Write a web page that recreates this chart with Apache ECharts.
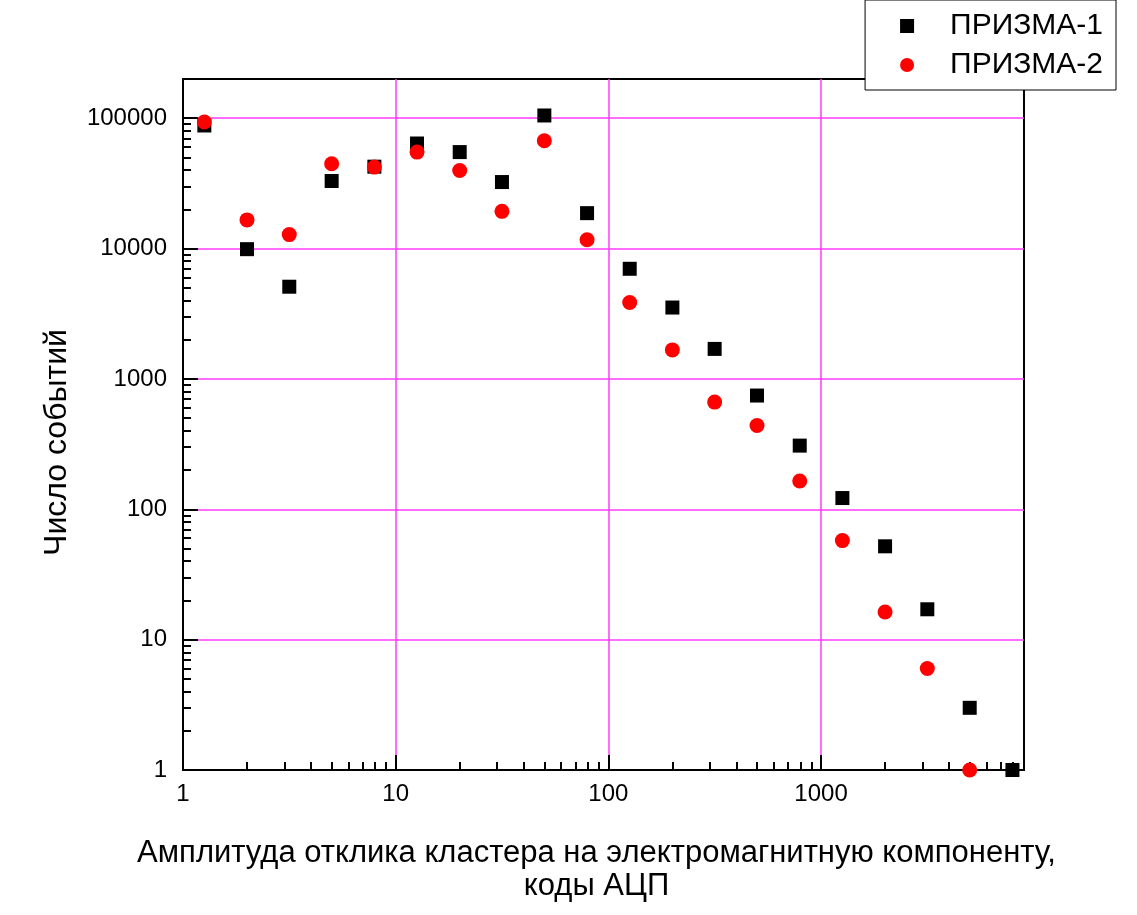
<!DOCTYPE html>
<html>
<head>
<meta charset="utf-8">
<script src="https://cdn.jsdelivr.net/npm/echarts@6/dist/echarts.min.js"></script>
<style>
  html, body { margin: 0; padding: 0; background: #fff; }
  #chart { width: 1137px; height: 915px; }
</style>
</head>
<body>
<div id="chart"></div>
<script>
// amplitude bins, ADC codes
const amplitudes = [1.26, 2, 3.16, 5, 7.94, 12.6, 20, 31.6, 50, 79.4, 126, 200, 316, 500, 794, 1260, 2000, 3160, 5000, 7940];
const prisma1 = [88000, 9900, 5100, 33000, 42500, 64000, 55000, 32400, 105000, 18700, 7000, 3530, 1700, 746, 308, 122, 52, 17.1, 3, 1];
const prisma2 = [93500, 16600, 12800, 44800, 42200, 55000, 39700, 19300, 67200, 11700, 3860, 1670, 664, 439, 165, 57.5, 16.3, 6, 1];

const seriesNames = ['ПРИЗМА-1', 'ПРИЗМА-2'];
const xName = 'Амплитуда отклика кластера на электромагнитную компоненту,\nкоды АЦП';
const yName = 'Число событий';

const font = "'Liberation Sans', Arial, sans-serif";
const grid = '#ff3cff';

const chart = echarts.init(document.getElementById('chart'));

const pairs = (xs, ys) => ys.map((y, i) => [xs[i], y]);
const plain = v => String(Math.round(v));

const option = {
  animation: false,
  backgroundColor: '#fff',
  grid: {
    left: 183, top: 79, right: 113, bottom: 145,
    show: true, borderColor: '#000', borderWidth: 2
  },
  legend: {
    orient: 'vertical',
    right: 21, top: 0,
    padding: [11, 13, 10, 35],
    itemGap: 9,
    itemWidth: 14, itemHeight: 14,
    borderColor: '#000', borderWidth: 1,
    backgroundColor: '#fff',
    textStyle: { fontFamily: font, fontSize: 30, color: '#000', padding: [0, 0, 0, 31] },
    data: seriesNames
  },
  xAxis: {
    type: 'log', logBase: 10, min: 1, max: 9000,
    name: xName, nameLocation: 'middle', nameGap: 67,
    nameTextStyle: { fontFamily: font, fontSize: 31, color: '#000', lineHeight: 33, padding: [0, 14, 0, 0] },
    axisLine: { lineStyle: { color: '#000', width: 2 } },
    axisTick: { inside: true, length: 15, lineStyle: { color: '#000', width: 2 } },
    minorTick: { show: true, splitNumber: 9, length: 8, lineStyle: { color: '#000', width: 2 } },
    axisLabel: { fontFamily: font, fontSize: 24, color: '#000', margin: 12, showMaxLabel: false, formatter: plain },
    splitLine: { show: true, showMinLine: false, showMaxLine: false, lineStyle: { color: grid, width: 1.5 } }
  },
  yAxis: {
    type: 'log', logBase: 10, min: 1, max: 200000,
    name: yName, nameLocation: 'middle', nameGap: 110, nameRotate: 90,
    nameTextStyle: { fontFamily: font, fontSize: 32, color: '#000', padding: [0, 36, 0, 0] },
    axisLine: { lineStyle: { color: '#000', width: 2 } },
    axisTick: { inside: true, length: 15, lineStyle: { color: '#000', width: 2 } },
    minorTick: { show: true, splitNumber: 9, length: 8, lineStyle: { color: '#000', width: 2 } },
    axisLabel: { fontFamily: font, fontSize: 24, color: '#000', margin: 16, showMaxLabel: false, formatter: plain },
    splitLine: { show: true, showMinLine: false, showMaxLine: false, lineStyle: { color: grid, width: 1.5 } }
  },
  series: [
    {
      name: seriesNames[0], type: 'scatter', symbol: 'rect', symbolSize: 14,
      itemStyle: { color: '#000', opacity: 1 },
      data: pairs(amplitudes, prisma1)
    },
    {
      name: seriesNames[1], type: 'scatter', symbol: 'circle', symbolSize: 15,
      itemStyle: { color: '#ff0000', opacity: 1 },
      data: pairs(amplitudes, prisma2)
    }
  ]
};

chart.setOption(option);
</script>
</body>
</html>
